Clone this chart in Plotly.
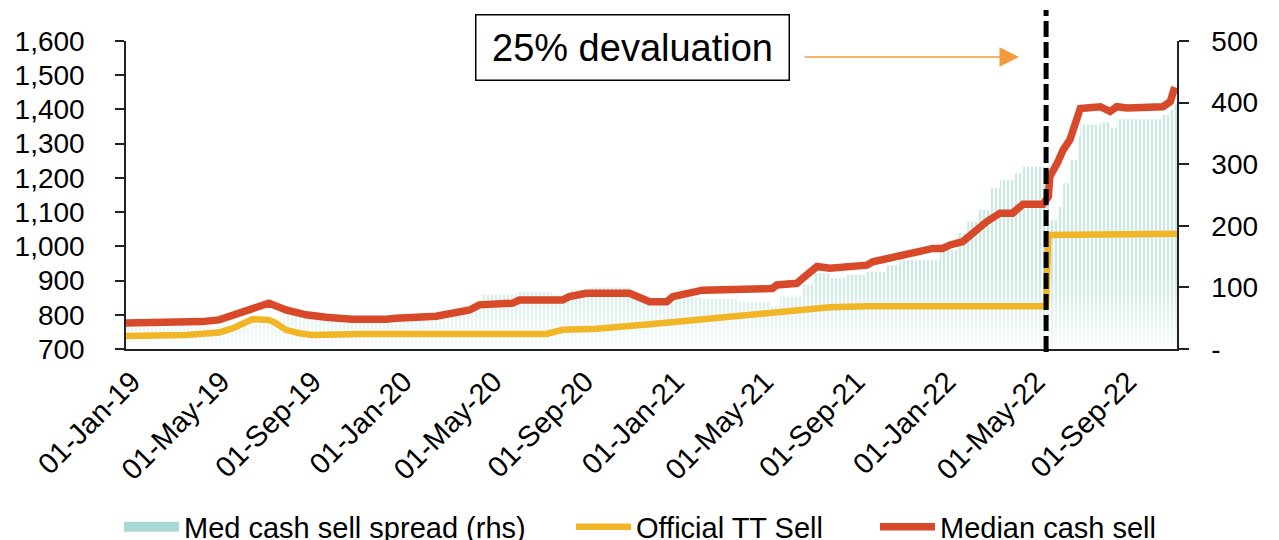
import plotly.graph_objects as go

# ---------------- data ----------------
# Median cash sell (lhs)
cash_dates = ['2019-01-01', '2019-02-14', '2019-04-13', '2019-05-06', '2019-05-29', '2019-06-20',
              '2019-07-12', '2019-08-04', '2019-08-31', '2019-09-27', '2019-11-01', '2019-12-17',
              '2019-12-30', '2020-02-22', '2020-03-15', '2020-04-07', '2020-04-20', '2020-04-30',
              '2020-06-04', '2020-06-13', '2020-08-10', '2020-08-19', '2020-09-11', '2020-11-08',
              '2020-11-21', '2020-12-05', '2020-12-28', '2021-01-05', '2021-02-14', '2021-05-19',
              '2021-05-25', '2021-06-21', '2021-06-29', '2021-07-18', '2021-08-04', '2021-08-22',
              '2021-09-23', '2021-10-01', '2021-10-24', '2021-11-06', '2021-11-29', '2021-12-21',
              '2022-01-03', '2022-01-13', '2022-01-30', '2022-02-09', '2022-02-22', '2022-03-03',
              '2022-03-21', '2022-04-07', '2022-04-21', '2022-05-18', '2022-05-25', '2022-05-27',
              '2022-06-06', '2022-06-14', '2022-06-23', '2022-06-30', '2022-07-07', '2022-08-03',
              '2022-08-16', '2022-08-25', '2022-09-08', '2022-10-26', '2022-11-05', '2022-11-11']
cash_vals = [776, 777, 780, 785, 800, 819,
             834, 814, 800, 793, 787, 787,
             790, 796, 804, 814, 829, 829,
             834, 843, 843, 853, 863, 863,
             853, 838, 838, 853, 872, 877,
             887, 892, 907, 941, 936, 941,
             945, 955, 965, 970, 985, 994,
             994, 1004, 1014, 1033, 1053, 1072,
             1097, 1097, 1123, 1123, 1145, 1204,
             1243, 1282, 1311, 1360, 1403, 1408,
             1394, 1408, 1404, 1408, 1423, 1465]

# Official TT sell (lhs)
tt_dates = ['2019-01-01', '2019-03-23', '2019-05-06', '2019-05-24', '2019-06-20', '2019-07-12',
            '2019-07-22', '2019-08-04', '2019-08-22', '2019-09-08', '2019-11-15', '2020-07-19',
            '2020-08-10', '2020-09-25', '2020-12-09', '2021-02-14', '2021-05-02', '2021-06-07',
            '2021-08-04', '2021-09-23', '2022-05-22', '2022-05-25', '2022-06-23', '2022-06-30',
            '2022-11-14']
tt_vals = [738, 741, 748, 760, 787, 785,
           775, 756, 746, 741, 744, 744,
           756, 759, 773, 787, 800, 809,
           822, 825, 825, 1033, 1033, 1037,
           1037]

# Median cash sell spread (rhs)
spread_dates = ['2019-01-01', '2019-05-06', '2019-06-20', '2019-07-12', '2019-08-04', '2019-08-31',
                '2019-09-27', '2019-11-01', '2019-12-30', '2020-02-22', '2020-03-15', '2020-04-07',
                '2020-04-24', '2020-06-09', '2020-07-27', '2020-08-19', '2020-09-15', '2020-11-08',
                '2020-11-25', '2020-12-05', '2021-01-01', '2021-02-14', '2021-04-01', '2021-05-15',
                '2021-05-29', '2021-06-29', '2021-07-12', '2021-08-04', '2021-08-27', '2021-09-23',
                '2021-10-20', '2021-11-06', '2021-12-30', '2022-01-22', '2022-02-05', '2022-02-18',
                '2022-03-08', '2022-03-21', '2022-04-10', '2022-04-21', '2022-05-26', '2022-06-06',
                '2022-06-14', '2022-06-23', '2022-07-03', '2022-07-07', '2022-08-03', '2022-08-16',
                '2022-08-25', '2022-10-26', '2022-11-05', '2022-11-11', '2022-11-14']
spread_vals = [35, 37, 40, 48, 58, 55,
               50, 44, 46, 52, 58, 75,
               88, 93, 88, 96, 100, 90,
               80, 70, 84, 81, 76, 69,
               85, 104, 123, 115, 120, 125,
               136, 144, 161, 188, 207, 226,
               261, 274, 285, 296, 209, 230,
               269, 307, 345, 364, 368, 359,
               373, 380, 388, 399, 399]

xtick_dates = ['2019-01-01', '2019-05-01', '2019-09-01', '2020-01-01', '2020-05-01', '2020-09-01',
               '2021-01-01', '2021-05-01', '2021-09-01', '2022-01-01', '2022-05-01', '2022-09-01']
lhs_ticks = [700, 800, 900, 1000, 1100, 1200, 1300, 1400, 1500, 1600]
rhs_ticks = [0, 100, 200, 300, 400, 500]
rhs_ticktext = ['-', '100', '200', '300', '400', '500']
x_range = ['2019-01-01', '2022-11-14']
devaluation_date = '2022-05-22'

# ---------------- styling ----------------
FONT = 'Liberation Sans, Arial, sans-serif'
RED = '#d8492a'
YELLOW = '#f1b625'
TEAL = '#98d1c6'
ORANGE = '#f39a3a'

W, H = 1279, 540
OFF = 8  # page body margin in the browser
# target plot area on screen: x 126..1177, y 41..349
L, T = 126 - OFF, 41 - OFF
R, B = W - (1177 - OFF), H - (349 - OFF)
PW, PH = W - L - R, H - T - B


def px_x(px):
    return (px - OFF - L) / PW


def px_y(py):
    return (H - B - (py - OFF)) / PH


fig = go.Figure()

# spread area (rhs) drawn as vertical stripes
fig.add_trace(go.Scatter(
    x=spread_dates, y=spread_vals, yaxis='y', mode='lines', line=dict(width=0, shape='hv'),
    fill='tozeroy', fillcolor='rgba(0,0,0,0)',
    fillpattern=dict(shape='|', fgcolor=TEAL, bgcolor='rgba(255,255,255,0)', size=4, solidity=0.6),
    showlegend=False, hoverinfo='skip'))
# fade to white towards the base
fig.add_trace(go.Scatter(
    x=spread_dates, y=spread_vals, yaxis='y', mode='lines', line=dict(width=0, shape='hv'),
    fill='tozeroy',
    fillgradient=dict(type='vertical', start=0, stop=120,
                      colorscale=[[0, 'rgba(255,255,255,0.88)'], [1, 'rgba(255,255,255,0)']]),
    showlegend=False, hoverinfo='skip'))

# legend entry for the spread
fig.add_trace(go.Scatter(x=[None], y=[None], yaxis='y', mode='lines',
                         line=dict(color='#a8d8d0', width=10),
                         name='Med cash sell spread (rhs)', legend='legend'))

fig.add_trace(go.Scatter(x=tt_dates, y=tt_vals, yaxis='y2', mode='lines',
                         line=dict(color=YELLOW, width=6.5), name='Official TT Sell', legend='legend2'))
fig.add_trace(go.Scatter(x=cash_dates, y=cash_vals, yaxis='y2', mode='lines',
                         line=dict(color=RED, width=7.5), name='Median cash sell', legend='legend3'))

leg_common = dict(orientation='h', yanchor='middle', y=px_y(527), xanchor='left', itemwidth=55,
                  font=dict(family=FONT, size=29, color='#000'), bgcolor='rgba(0,0,0,0)')

fig.update_layout(
    width=W, height=H,
    margin=dict(l=L, r=R, t=T, b=B, pad=0, autoexpand=False),
    paper_bgcolor='white', plot_bgcolor='white',
    font=dict(family=FONT, size=28, color='#000'),
    xaxis=dict(type='date', range=x_range, tickvals=xtick_dates, tickformat='%d-%b-%y',
               tickangle=-45, showgrid=False, zeroline=False, showline=True, linecolor='#222',
               linewidth=2, ticks='', ticklabelstandoff=2, ticklabelshift=6,
               tickfont=dict(size=29), automargin=False),
    yaxis=dict(range=[0, 500], tickvals=rhs_ticks, ticktext=rhs_ticktext, side='right',
               showgrid=False, zeroline=False, showline=True, linecolor='#222', linewidth=1.5,
               ticks='outside', ticklen=10, tickwidth=1.5, tickcolor='#222',
               ticklabelstandoff=17, tickfont=dict(size=28), automargin=False),
    yaxis2=dict(range=[700, 1600], tickvals=lhs_ticks, tickformat=',', side='left', overlaying='y',
                showgrid=False, zeroline=False, showline=True, linecolor='#222', linewidth=1.5,
                ticks='outside', ticklen=9, tickwidth=1.5, tickcolor='#222',
                ticklabelstandoff=25, tickfont=dict(size=28), automargin=False),
    legend=dict(x=px_x(119), **leg_common),
    legend2=dict(x=px_x(571), **leg_common),
    legend3=dict(x=px_x(875), **leg_common),
    shapes=[dict(type='line', xref='x', yref='paper', x0=devaluation_date, x1=devaluation_date,
                 y0=px_y(352), y1=px_y(10), line=dict(color='black', width=5, dash='16px,5px'),
                 layer='above')],
    annotations=[
        dict(xref='paper', yref='paper', x=px_x(632.5), y=px_y(48), text='25% devaluation',
             showarrow=False, font=dict(family=FONT, size=38, color='#000'),
             bordercolor='#000', borderwidth=1.5, borderpad=6, bgcolor='white',
             width=300, height=52, xanchor='center', yanchor='middle'),
        dict(xref='paper', yref='paper', x=px_x(1019), y=px_y(57), text='',
             showarrow=True, ax=-216, ay=0, axref='pixel', ayref='pixel',
             arrowhead=2, arrowsize=2.6, arrowwidth=1.5, arrowcolor=ORANGE),
    ],
)

fig.write_html('out.html')
